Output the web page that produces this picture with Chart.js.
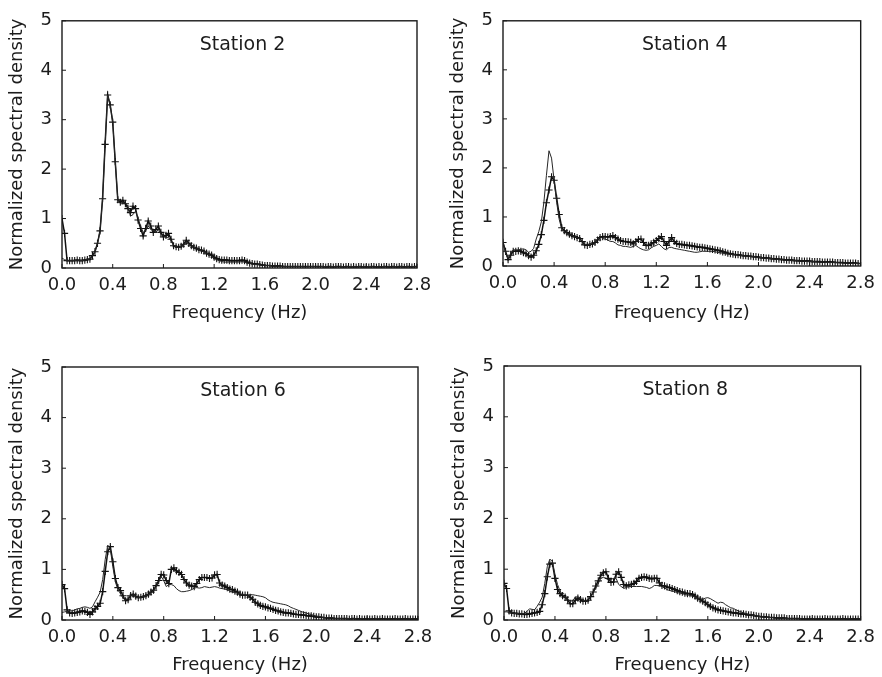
<!DOCTYPE html>
<html>
<head>
<meta charset="utf-8">
<script src="https://cdn.jsdelivr.net/npm/chart.js@4.4.0/dist/chart.umd.min.js"></script>
<style>
    html, body { margin: 0; padding: 0; background: #fff; }
    body { width: 882px; height: 677px; position: relative; overflow: hidden; }
    canvas { position: absolute; }
</style>
</head>
<body>
<canvas id="st2" width="441" height="330" style="left:0;top:0"></canvas>
<canvas id="st4" width="441" height="330" style="left:441px;top:0"></canvas>
<canvas id="st6" width="441" height="337" style="left:0;top:340px"></canvas>
<canvas id="st8" width="441" height="337" style="left:441px;top:340px"></canvas>
<script>
// frequency grid, 0.02 Hz steps from 0.0 to 2.8 Hz
const FREQUENCIES = Array.from({ length: 141 }, (_, i) => Math.round(i * 2) / 100);

const X_TICKS = ['0.0', '0.4', '0.8', '1.2', '1.6', '2.0', '2.4', '2.8'];
const Y_TICKS = ['0', '1', '2', '3', '4', '5'];
const STATIONS = ['Station 2', 'Station 4', 'Station 6', 'Station 8'];

const STATION2_PLUS = [
    1.0, 0.7, 0.15, 0.15, 0.15, 0.15, 0.16, 0.15, 0.15, 0.16,
    0.17, 0.18, 0.25, 0.33, 0.5, 0.75, 1.4, 2.5, 3.5, 3.3,
    2.95, 2.15, 1.38, 1.33, 1.37, 1.3, 1.2, 1.12, 1.25, 1.2,
    0.97, 0.8, 0.65, 0.8, 0.95, 0.85, 0.72, 0.78, 0.85, 0.72,
    0.63, 0.66, 0.7, 0.58, 0.45, 0.43, 0.42, 0.44, 0.48, 0.56,
    0.5, 0.45, 0.42, 0.4, 0.37, 0.36, 0.34, 0.3, 0.28, 0.26,
    0.22, 0.19, 0.17, 0.16, 0.16, 0.16, 0.15, 0.15, 0.15, 0.15,
    0.15, 0.16, 0.15, 0.12, 0.1, 0.09, 0.08, 0.08, 0.07, 0.06,
    0.05, 0.05, 0.05, 0.04, 0.04, 0.04, 0.04, 0.03, 0.03, 0.03,
    0.03, 0.03, 0.03, 0.03, 0.03, 0.03, 0.03, 0.03, 0.03, 0.03,
    0.03, 0.03, 0.03, 0.03, 0.02, 0.03, 0.03, 0.02, 0.03, 0.03,
    0.03, 0.02, 0.03, 0.03, 0.02, 0.03, 0.02, 0.03, 0.03, 0.02,
    0.03, 0.02, 0.03, 0.03, 0.02, 0.03, 0.02, 0.03, 0.03, 0.02,
    0.03, 0.03, 0.02, 0.03, 0.03, 0.02, 0.03, 0.03, 0.02, 0.03,
    0.03,
];
const STATION2_LINE = [
    0.2, 0.17, 0.15, 0.15, 0.15, 0.15, 0.16, 0.15, 0.15, 0.16,
    0.17, 0.18, 0.25, 0.33, 0.5, 0.75, 1.4, 2.5, 3.5, 3.3,
    2.95, 2.15, 1.38, 1.3, 1.3, 1.32, 1.25, 1.05, 1.08, 1.15,
    1.0, 0.85, 0.72, 0.75, 0.85, 0.78, 0.75, 0.72, 0.78, 0.68,
    0.65, 0.62, 0.62, 0.55, 0.46, 0.43, 0.42, 0.44, 0.47, 0.53,
    0.49, 0.45, 0.42, 0.4, 0.37, 0.35, 0.33, 0.3, 0.27, 0.24,
    0.2, 0.17, 0.15, 0.13, 0.12, 0.12, 0.12, 0.12, 0.12, 0.12,
    0.12, 0.13, 0.12, 0.1, 0.09, 0.08, 0.07, 0.07, 0.06, 0.06,
    0.05, 0.05, 0.05, 0.04, 0.04, 0.04, 0.03, 0.03, 0.03, 0.03,
    0.03, 0.03, 0.03, 0.03, 0.03, 0.03, 0.02, 0.03, 0.03, 0.03,
    0.03, 0.02, 0.03, 0.03, 0.03, 0.02, 0.03, 0.03, 0.03, 0.02,
    0.03, 0.03, 0.02, 0.03, 0.03, 0.03, 0.02, 0.03, 0.02, 0.03,
    0.02, 0.03, 0.03, 0.02, 0.03, 0.02, 0.03, 0.03, 0.02, 0.03,
    0.02, 0.03, 0.03, 0.02, 0.03, 0.02, 0.03, 0.02, 0.03, 0.03,
    0.02,
];

const STATION4_PLUS = [
    0.48, 0.3, 0.13, 0.22, 0.3, 0.3, 0.31, 0.3, 0.27, 0.25,
    0.21, 0.18, 0.22, 0.31, 0.44, 0.64, 0.93, 1.29, 1.55, 1.82,
    1.75, 1.38, 1.05, 0.78, 0.72, 0.68, 0.65, 0.62, 0.6, 0.58,
    0.56, 0.5, 0.43, 0.42, 0.44, 0.45, 0.48, 0.53, 0.58, 0.6,
    0.6, 0.59, 0.6, 0.62, 0.58, 0.55, 0.52, 0.5, 0.5, 0.49,
    0.48, 0.45, 0.5, 0.54, 0.55, 0.48, 0.42, 0.42, 0.45, 0.48,
    0.52, 0.56, 0.6, 0.5, 0.42, 0.5, 0.58, 0.5, 0.46, 0.44,
    0.44, 0.43, 0.42, 0.42, 0.41, 0.4, 0.39, 0.38, 0.38, 0.37,
    0.36, 0.35, 0.34, 0.33, 0.32, 0.31, 0.29, 0.28, 0.26, 0.25,
    0.24, 0.23, 0.23, 0.22, 0.21, 0.21, 0.2, 0.2, 0.19, 0.19,
    0.18, 0.17, 0.17, 0.16, 0.16, 0.15, 0.15, 0.14, 0.14, 0.13,
    0.13, 0.12, 0.12, 0.12, 0.11, 0.11, 0.11, 0.1, 0.1, 0.1,
    0.1, 0.09, 0.09, 0.09, 0.09, 0.08, 0.08, 0.08, 0.08, 0.08,
    0.07, 0.07, 0.07, 0.07, 0.06, 0.06, 0.06, 0.06, 0.06, 0.05,
    0.05,
];
const STATION4_LINE = [
    0.5, 0.25, 0.15, 0.25, 0.33, 0.33, 0.33, 0.34, 0.35, 0.33,
    0.28, 0.3, 0.36, 0.55, 0.7, 0.9, 1.3, 1.85, 2.35, 2.2,
    1.75, 1.3, 0.95, 0.75, 0.7, 0.67, 0.64, 0.62, 0.6, 0.58,
    0.55, 0.5, 0.44, 0.43, 0.44, 0.46, 0.5, 0.55, 0.6, 0.56,
    0.55, 0.53, 0.5, 0.5, 0.47, 0.43, 0.42, 0.4, 0.4, 0.39,
    0.38, 0.4, 0.42, 0.38, 0.35, 0.33, 0.32, 0.33, 0.37, 0.4,
    0.42, 0.45, 0.4, 0.35, 0.33, 0.38, 0.38, 0.36, 0.35, 0.34,
    0.33, 0.32, 0.31, 0.3, 0.29, 0.28, 0.28, 0.29, 0.3, 0.3,
    0.3, 0.3, 0.3, 0.29, 0.28, 0.27, 0.26, 0.25, 0.24, 0.24,
    0.23, 0.23, 0.22, 0.22, 0.21, 0.2, 0.2, 0.19, 0.19, 0.18,
    0.17, 0.17, 0.16, 0.16, 0.15, 0.15, 0.14, 0.14, 0.13, 0.13,
    0.12, 0.12, 0.12, 0.11, 0.11, 0.11, 0.1, 0.1, 0.1, 0.09,
    0.09, 0.09, 0.09, 0.08, 0.08, 0.08, 0.08, 0.07, 0.07, 0.07,
    0.07, 0.07, 0.06, 0.06, 0.06, 0.06, 0.06, 0.05, 0.05, 0.05,
    0.05,
];

const STATION6_PLUS = [
    0.7, 0.62, 0.2, 0.14, 0.13, 0.14, 0.15, 0.16, 0.18, 0.17,
    0.15, 0.11, 0.16, 0.22, 0.27, 0.33, 0.56, 0.96, 1.35, 1.45,
    1.15, 0.82, 0.64, 0.58, 0.48, 0.38, 0.4, 0.48, 0.51, 0.47,
    0.44, 0.45, 0.46, 0.48, 0.51, 0.55, 0.59, 0.68, 0.78, 0.9,
    0.89, 0.78, 0.72, 1.0, 1.03, 0.97, 0.94, 0.9, 0.8, 0.73,
    0.69, 0.67, 0.66, 0.72, 0.8, 0.84, 0.84, 0.84, 0.82, 0.83,
    0.89, 0.9, 0.73, 0.69, 0.67, 0.64, 0.61, 0.6, 0.57, 0.55,
    0.51, 0.49, 0.49, 0.49, 0.45, 0.41, 0.35, 0.32, 0.29, 0.27,
    0.26, 0.24, 0.23, 0.21, 0.19, 0.18, 0.16, 0.15, 0.14, 0.14,
    0.13, 0.12, 0.11, 0.11, 0.1, 0.1, 0.09, 0.08, 0.08, 0.07,
    0.06, 0.06, 0.05, 0.05, 0.04, 0.04, 0.04, 0.03, 0.03, 0.03,
    0.03, 0.03, 0.03, 0.02, 0.03, 0.03, 0.02, 0.03, 0.02, 0.02,
    0.03, 0.02, 0.02, 0.03, 0.02, 0.02, 0.03, 0.02, 0.02, 0.02,
    0.02, 0.03, 0.02, 0.02, 0.02, 0.03, 0.02, 0.02, 0.02, 0.02,
    0.02,
];
const STATION6_LINE = [
    0.15, 0.16, 0.17, 0.18, 0.18, 0.2, 0.22, 0.23, 0.25, 0.26,
    0.25, 0.23, 0.26, 0.36, 0.45, 0.55, 0.8, 1.2, 1.48, 1.4,
    1.05, 0.75, 0.6, 0.52, 0.43, 0.4, 0.44, 0.48, 0.5, 0.46,
    0.44, 0.45, 0.46, 0.48, 0.5, 0.54, 0.58, 0.66, 0.74, 0.86,
    0.78, 0.66, 0.7, 0.7, 0.68, 0.62, 0.58, 0.56, 0.56, 0.57,
    0.58, 0.6, 0.63, 0.64, 0.63, 0.64, 0.66, 0.65, 0.64, 0.65,
    0.66, 0.65, 0.63, 0.62, 0.61, 0.6, 0.57, 0.55, 0.54, 0.53,
    0.52, 0.5, 0.49, 0.49, 0.5, 0.5, 0.49, 0.48, 0.47, 0.46,
    0.44, 0.4, 0.37, 0.35, 0.34, 0.33, 0.32, 0.31, 0.3, 0.28,
    0.25, 0.23, 0.21, 0.19, 0.17, 0.15, 0.14, 0.12, 0.11, 0.09,
    0.08, 0.07, 0.06, 0.05, 0.05, 0.04, 0.04, 0.03, 0.03, 0.03,
    0.03, 0.02, 0.03, 0.03, 0.02, 0.03, 0.02, 0.02, 0.03, 0.02,
    0.02, 0.03, 0.02, 0.02, 0.03, 0.02, 0.02, 0.02, 0.03, 0.02,
    0.02, 0.02, 0.03, 0.02, 0.02, 0.02, 0.02, 0.03, 0.02, 0.02,
    0.02,
];

const STATION8_PLUS = [
    0.72, 0.62, 0.18, 0.14, 0.13, 0.13, 0.12, 0.12, 0.11, 0.11,
    0.12, 0.13, 0.14, 0.15, 0.17, 0.3, 0.52, 0.85, 1.1, 1.12,
    0.82, 0.6, 0.52, 0.48, 0.45, 0.39, 0.32, 0.32, 0.39, 0.43,
    0.4, 0.37, 0.37, 0.39, 0.46, 0.55, 0.67, 0.77, 0.88, 0.93,
    0.95, 0.82, 0.74, 0.75, 0.9, 0.95, 0.84, 0.7, 0.67, 0.69,
    0.7, 0.72, 0.76, 0.82, 0.84, 0.85, 0.84, 0.82, 0.81, 0.82,
    0.82, 0.73, 0.68, 0.67, 0.65, 0.64, 0.62, 0.6, 0.58, 0.56,
    0.55, 0.53, 0.52, 0.52, 0.5, 0.47, 0.43, 0.4, 0.37, 0.34,
    0.3, 0.27, 0.24, 0.22, 0.2, 0.19, 0.18, 0.17, 0.16, 0.15,
    0.14, 0.14, 0.13, 0.12, 0.12, 0.11, 0.1, 0.1, 0.09, 0.08,
    0.07, 0.07, 0.06, 0.06, 0.05, 0.05, 0.05, 0.04, 0.04, 0.04,
    0.04, 0.03, 0.03, 0.03, 0.03, 0.03, 0.03, 0.02, 0.02, 0.02,
    0.02, 0.03, 0.02, 0.02, 0.02, 0.02, 0.03, 0.02, 0.02, 0.02,
    0.02, 0.02, 0.02, 0.03, 0.02, 0.02, 0.02, 0.02, 0.02, 0.02,
    0.02,
];
const STATION8_LINE = [
    0.16, 0.16, 0.15, 0.14, 0.13, 0.13, 0.12, 0.12, 0.13, 0.17,
    0.22, 0.21, 0.2, 0.27, 0.35, 0.45, 0.72, 1.05, 1.2, 1.15,
    0.9, 0.7, 0.57, 0.5, 0.45, 0.41, 0.37, 0.38, 0.45, 0.46,
    0.43, 0.38, 0.37, 0.4, 0.46, 0.54, 0.62, 0.72, 0.82, 0.84,
    0.82, 0.78, 0.8, 0.82, 0.82, 0.7, 0.66, 0.62, 0.64, 0.66,
    0.66, 0.66, 0.66, 0.66, 0.66, 0.65, 0.64, 0.62, 0.64, 0.68,
    0.68, 0.67, 0.66, 0.63, 0.6, 0.58, 0.57, 0.56, 0.54, 0.53,
    0.52, 0.5, 0.49, 0.49, 0.47, 0.45, 0.43, 0.42, 0.41, 0.43,
    0.44, 0.42, 0.39, 0.36, 0.33, 0.35, 0.34, 0.3, 0.27, 0.24,
    0.23, 0.2, 0.18, 0.16, 0.14, 0.13, 0.11, 0.1, 0.09, 0.08,
    0.07, 0.06, 0.06, 0.05, 0.05, 0.05, 0.04, 0.04, 0.04, 0.04,
    0.03, 0.03, 0.03, 0.03, 0.03, 0.02, 0.03, 0.02, 0.02, 0.02,
    0.02, 0.02, 0.03, 0.02, 0.02, 0.02, 0.02, 0.02, 0.03, 0.02,
    0.02, 0.02, 0.02, 0.02, 0.02, 0.03, 0.02, 0.02, 0.02, 0.02,
    0.02,
];

const COR_TEXTO = '#1c1c1c';
const FONTE = "'DejaVu Sans', sans-serif";

// layout of the four panels (canvas padding so plot frames land where the original has them)
const PAINEIS = [
    { id: 'st2', titulo: STATIONS[0], marcada: STATION2_PLUS, simples: STATION2_LINE,
      padding: { left: 0, top: 12, right: 24, bottom: 0 }, alturaX: 62, tituloX: 6 },
    { id: 'st4', titulo: STATIONS[1], marcada: STATION4_PLUS, simples: STATION4_LINE,
      padding: { left: 0, top: 11, right: 21, bottom: 0 }, alturaX: 64, tituloX: 6 },
    { id: 'st6', titulo: STATIONS[2], marcada: STATION6_PLUS, simples: STATION6_LINE,
      padding: { left: 0, top: 27, right: 23, bottom: 0 }, alturaX: 57, tituloX: 1 },
    { id: 'st8', titulo: STATIONS[3], marcada: STATION8_PLUS, simples: STATION8_LINE,
      padding: { left: 1, top: 26, right: 21, bottom: 0 }, alturaX: 57, tituloX: 1 },
];

function pontos(valores) {
    return FREQUENCIES.map((f, i) => ({ x: f, y: valores[i] }));
}

// frame around the plot, short inward tick marks, and the station name inside the box
const molduraPlugin = {
    id: 'moldura',
    afterDatasetsDraw(chart, args, opts) {
        const { ctx, chartArea } = chart;
        const { left, top, right, bottom } = chartArea;
        ctx.save();
        ctx.strokeStyle = '#1a1a1a';
        ctx.lineWidth = 1.4;
        ctx.strokeRect(left, top, right - left, bottom - top);

        ctx.lineWidth = 1;
        const escalaX = chart.scales.x;
        const escalaY = chart.scales.y;
        ctx.beginPath();
        escalaX.ticks.forEach((t) => {
            const px = escalaX.getPixelForValue(t.value);
            ctx.moveTo(px, bottom);
            ctx.lineTo(px, bottom - 4);
        });
        escalaY.ticks.forEach((t) => {
            const py = escalaY.getPixelForValue(t.value);
            ctx.moveTo(left, py);
            ctx.lineTo(left + 4, py);
        });
        ctx.stroke();

        ctx.fillStyle = COR_TEXTO;
        ctx.font = `19px ${FONTE}`;
        ctx.textAlign = 'center';
        ctx.textBaseline = 'middle';
        ctx.fillText(opts.texto, (left + right) / 2 + 3, top + 24);
        ctx.restore();
    },
};

function criarPainel(painel) {
    const canvas = document.getElementById(painel.id);
    return new Chart(canvas, {
        type: 'line',
        data: {
            datasets: [
                {
                    label: 'sem marcador',
                    data: pontos(painel.simples),
                    borderColor: '#262626',
                    borderWidth: 1,
                    pointRadius: 0,
                    tension: 0,
                },
                {
                    label: 'com marcador',
                    data: pontos(painel.marcada),
                    borderColor: '#111',
                    borderWidth: 1.5,
                    pointStyle: 'cross',
                    pointRadius: 3.6,
                    pointBorderWidth: 1.1,
                    pointBorderColor: '#111',
                    tension: 0,
                },
            ],
        },
        options: {
            responsive: false,
            animation: false,
            events: [],
            layout: { padding: painel.padding },
            plugins: {
                legend: { display: false },
                tooltip: { enabled: false },
                moldura: { texto: painel.titulo },
            },
            scales: {
                x: {
                    type: 'linear',
                    min: 0,
                    max: 2.8,
                    afterFit: (escala) => { escala.height = painel.alturaX; },
                    border: { display: false },
                    grid: { display: false, drawTicks: false },
                    ticks: {
                        stepSize: 0.4,
                        padding: 7,
                        color: COR_TEXTO,
                        font: { family: FONTE, size: 18 },
                        maxRotation: 0,
                        autoSkip: false,
                        callback: (valor) => X_TICKS[Math.round(valor / 0.4)],
                    },
                    title: {
                        display: true,
                        text: 'Frequency (Hz)',
                        color: COR_TEXTO,
                        font: { family: FONTE, size: 18 },
                        padding: { top: 0, bottom: painel.tituloX },
                    },
                },
                y: {
                    min: 0,
                    max: 5,
                    afterFit: (escala) => { escala.width = 62; },
                    border: { display: false },
                    grid: { display: false, drawTicks: false },
                    ticks: {
                        stepSize: 1,
                        padding: 10,
                        color: COR_TEXTO,
                        font: { family: FONTE, size: 18 },
                        callback: (valor) => Y_TICKS[Math.round(valor)],
                    },
                    title: {
                        display: true,
                        text: 'Normalized spectral density',
                        color: COR_TEXTO,
                        font: { family: FONTE, size: 18 },
                        padding: { top: 7, bottom: 0 },
                    },
                },
            },
        },
        plugins: [molduraPlugin],
    });
}

PAINEIS.forEach(criarPainel);
</script>
</body>
</html>
